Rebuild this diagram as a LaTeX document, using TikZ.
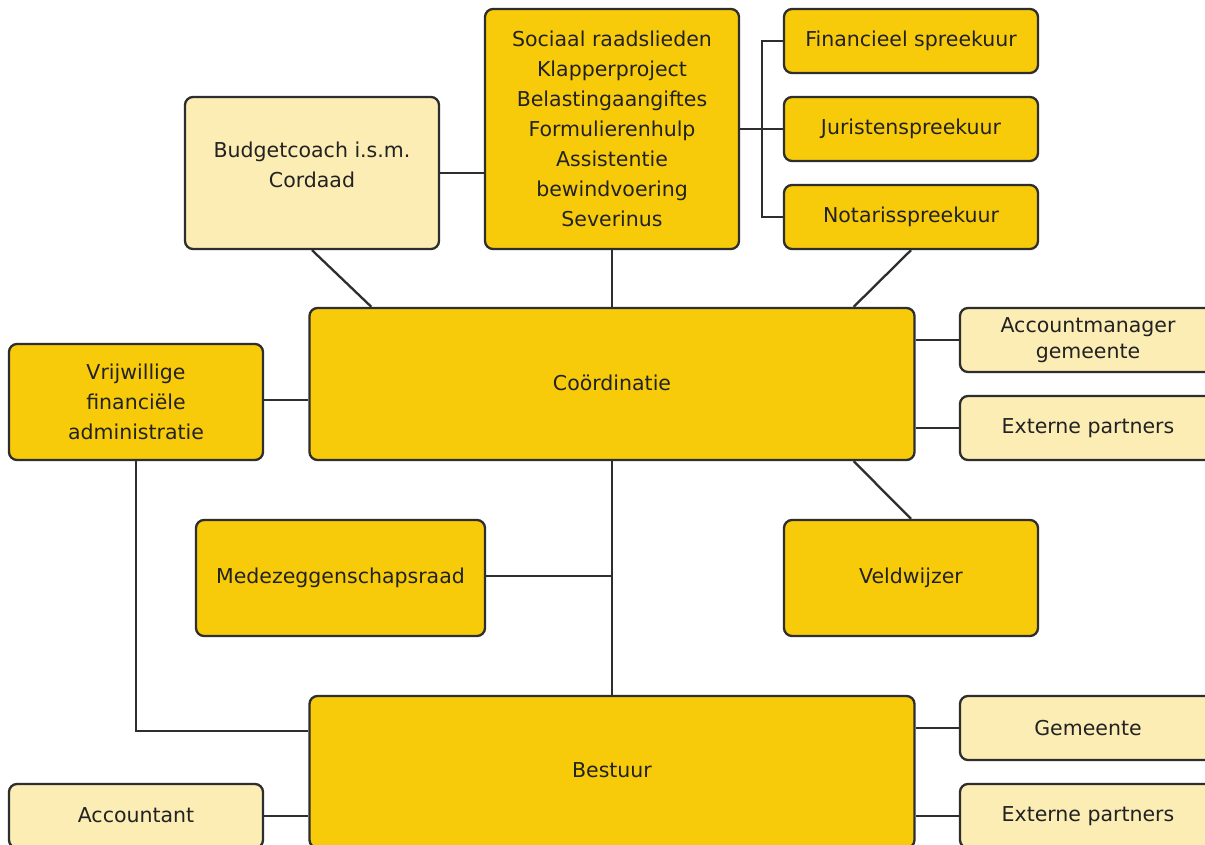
\documentclass[tikz,border=0pt]{standalone}
\usepackage{fontspec}
\setmainfont{DejaVu Sans}
\definecolor{dk}{HTML}{F8CB0A}
\definecolor{lt}{HTML}{FCEDB5}
\definecolor{ln}{HTML}{2E2E2E}
\definecolor{tx}{HTML}{222222}
\begin{document}
\begin{tikzpicture}[x=1pt,y=-1pt,
  box/.style={draw=ln,line width=2.3pt,rounded corners=8pt,align=center,text=tx,
    font=\fontsize{20.5}{30}\selectfont,inner sep=0pt,minimum width=254pt,minimum height=64pt},
  dbox/.style={box,fill=dk},
  lbox/.style={box,fill=lt},
  conn/.style={draw=ln,line width=2.3pt}]
\clip (0,0) rectangle (1205,845);
\fill[white] (0,0) rectangle (1205,845);
\node[dbox,minimum height=240pt] (soc) at (612,129) {Sociaal raadslieden\\Klapperproject\\Belastingaangiftes\\Formulierenhulp\\Assistentie\\bewindvoering\\Severinus};
\node[dbox] (fin) at (911,41) {Financieel spreekuur};
\node[dbox] (jur) at (911,129) {Juristenspreekuur};
\node[dbox] (not) at (911,217) {Notarisspreekuur};
\node[lbox,minimum height=152pt] (bud) at (312,173) {Budgetcoach i.s.m.\\Cordaad\\[-14pt]};
\node[dbox,minimum width=605pt,minimum height=152pt] (coo) at (612,384) {\raisebox{3pt}{Coördinatie}};
\node[dbox,minimum height=116pt] (vri) at (136,402) {Vrijwillige\\financiële\\administratie};
\node[lbox,minimum width=256pt] (acm) at (1088,340) {Accountmanager\\[-4pt]gemeente};
\node[lbox,minimum width=256pt] (ext1) at (1088,428) {Externe partners};
\node[dbox,minimum height=116pt] (vel) at (911,578) {Veldwijzer};
\node[dbox,minimum width=289pt,minimum height=116pt] (med) at (340.5,578) {Medezeggenschapsraad};
\node[dbox,minimum width=605pt,minimum height=152pt] (bes) at (612,772) {\raisebox{4pt}{Bestuur}};
\node[lbox,minimum width=256pt] (gem) at (1088,728) {Gemeente};
\node[lbox,minimum width=256pt] (ext2) at (1088,816) {Externe partners};
\node[lbox] (acc) at (136,816) {\raisebox{2pt}{Accountant}};
\coordinate (br) at (762,129);
\draw[conn] (soc.east) -- (jur.west);
\draw[conn] (fin.west) -- (fin.west -| br) -- (not.west -| br) -- (not.west);
\draw[conn] (bud.east) -- (bud.east -| soc.west);
\draw[conn] (bud.south) -- ([xshift=63pt]coo.north west);
\draw[conn] (soc.south) -- (coo.north);
\draw[conn] (not.south) -- ([xshift=-62pt]coo.north east);
\draw[conn] ([yshift=2pt]vri.east) -- ([yshift=2pt]vri.east -| coo.west);
\draw[conn] (acm.west) -- (acm.west -| coo.east);
\draw[conn] (ext1.west) -- (ext1.west -| coo.east);
\draw[conn] ([xshift=-62pt]coo.south east) -- (vel.north);
\draw[conn] (coo.south) -- (bes.north);
\draw[conn] ([yshift=2pt]med.east) -- ([yshift=2pt]med.east -| coo.south);
\draw[conn] (vri.south) |- ([yshift=41pt]bes.west);
\draw[conn] (gem.west) -- (gem.west -| bes.east);
\draw[conn] (ext2.west) -- (ext2.west -| bes.east);
\draw[conn] (acc.east) -- (acc.east -| bes.west);
\end{tikzpicture}
\end{document}
